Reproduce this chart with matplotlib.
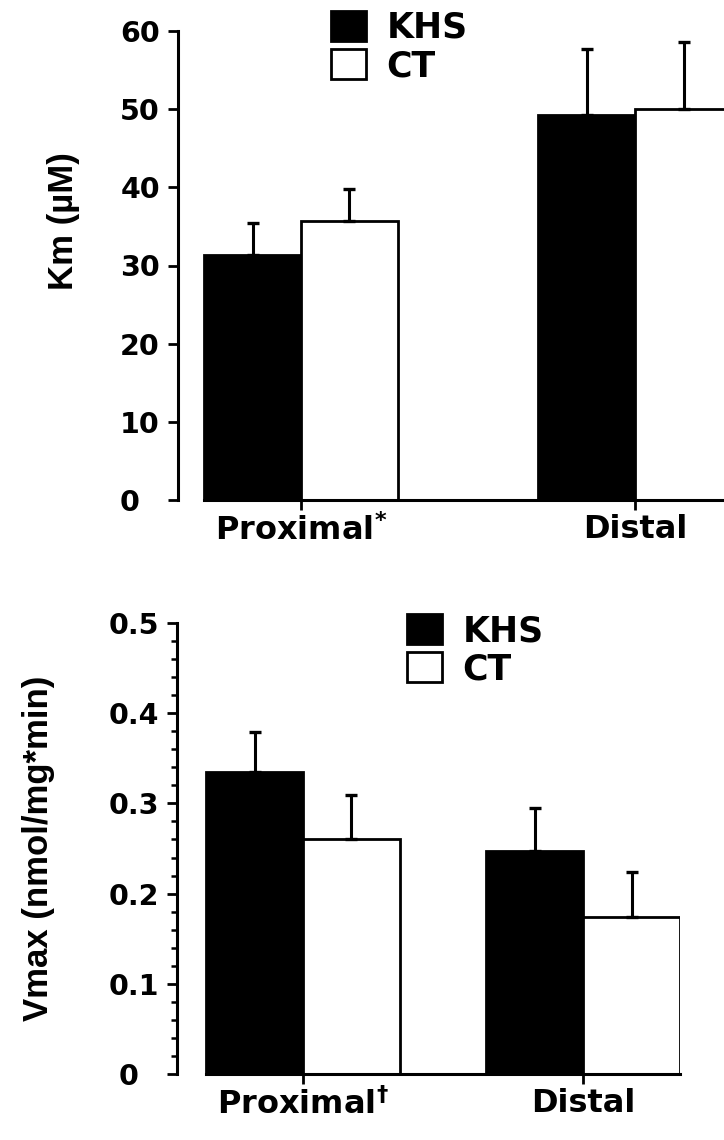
import matplotlib
matplotlib.use("Agg")
import matplotlib.pyplot as plt
import numpy as np
from matplotlib.ticker import MultipleLocator, FuncFormatter

plt.rcParams['font.family'] = ['DejaVu Sans']
plt.rcParams['font.weight'] = 'bold'
plt.rcParams['axes.labelweight'] = 'bold'
plt.rcParams['mathtext.default'] = 'bf'

regions = ["Proximal", "Distal"]
groups = ["KHS", "CT"]

# Km (uM)
km_khs = [31.3, 49.3]
km_khs_err = [4.2, 8.4]
km_ct = [35.7, 50.0]
km_ct_err = [4.1, 8.6]
km_ticks = [0, 10, 20, 30, 40, 50, 60]
km_xlabels = ["Proximal$^{*}$", "Distal"]

# Vmax (nmol/mg*min)
vmax_khs = [0.335, 0.247]
vmax_khs_err = [0.044, 0.048]
vmax_ct = [0.261, 0.174]
vmax_ct_err = [0.048, 0.050]
vmax_ticks = [0, 0.1, 0.2, 0.3, 0.4, 0.5]
vmax_xlabels = ["Proximal$^{\\dagger}$", "Distal"]

W, H = 724, 1140
fig = plt.figure(figsize=(W / 100, H / 100), dpi=100)


def panel(rect, khs, khs_err, ct, ct_err, w, xlim, ticks, xlabels, fmt, ylabel, ylab_xy, leg_xy, minor=None):
    ax = fig.add_axes(rect)
    x = np.arange(len(regions))
    ekw = dict(ecolor='black', elinewidth=2.2, capsize=4, capthick=2.4)
    ax.bar(x - w / 2, khs, w, yerr=[np.zeros(len(x)), khs_err], color='black',
           edgecolor='black', linewidth=2, label=groups[0], error_kw=ekw)
    ax.bar(x + w / 2, ct, w, yerr=[np.zeros(len(x)), ct_err], color='white',
           edgecolor='black', linewidth=2, label=groups[1], error_kw=ekw)
    ax.set_xlim(*xlim)
    ax.set_ylim(ticks[0], ticks[-1])
    ax.set_yticks(ticks)
    ax.yaxis.set_major_formatter(FuncFormatter(fmt))
    if minor:
        ax.yaxis.set_minor_locator(MultipleLocator(minor))
    ax.set_xticks(x)
    ax.set_xticklabels(xlabels, fontsize=23)
    for s in ['top', 'right']:
        ax.spines[s].set_visible(False)
    for s in ['left', 'bottom']:
        ax.spines[s].set_linewidth(2.2)
    ax.spines['bottom'].set_bounds(-w, xlim[1])
    ax.tick_params(axis='y', which='major', length=7, width=2, labelsize=20.5, pad=6)
    ax.tick_params(axis='y', which='minor', length=4.5, width=1.8)
    ax.tick_params(axis='x', length=7, width=2, pad=3)
    ax.set_ylabel(ylabel, family='Liberation Sans', fontsize=25, fontweight='bold')
    ax.yaxis.set_label_coords(*ylab_xy)
    ax.legend(loc='upper left', bbox_to_anchor=leg_xy, bbox_transform=fig.transFigure,
              frameon=False, fontsize=25, handlelength=1.0, handleheight=0.95,
              handletextpad=0.6, labelspacing=0.12, borderpad=0, borderaxespad=0)
    return ax


def km_fmt(v, _):
    return '0\u2007' if v == 0 else f'{v:.0f}'


def vmax_fmt(v, _):
    return '0\u2007' if v == 0 else f'{v:.1f}'


panel([178 / W, 1 - 500 / H, (752 - 178) / W, 469 / H],
      km_khs, km_khs_err, km_ct, km_ct_err, 0.29, (-0.368, 1.35),
      km_ticks, km_xlabels, km_fmt, 'Km (\u00b5M)', (-0.171, 0.595),
      (331 / W, 1 - 11 / H))

panel([177 / W, 1 - 1074 / H, (680 - 177) / W, 451 / H],
      vmax_khs, vmax_khs_err, vmax_ct, vmax_ct_err, 0.346, (-0.45, 1.346),
      vmax_ticks, vmax_xlabels, vmax_fmt, 'Vmax (nmol/mg*min)', (-0.243, 0.5),
      (407 / W, 1 - 614 / H), minor=0.02)

fig.savefig('out.png', dpi=100)
